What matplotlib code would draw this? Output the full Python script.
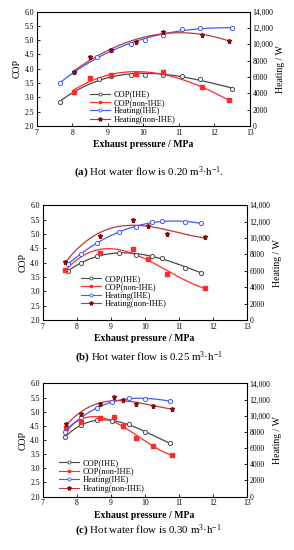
import numpy as np
import matplotlib
matplotlib.use("Agg")
import matplotlib.pyplot as plt
from matplotlib.ticker import FuncFormatter

plt.rcParams['font.family'] = ['Liberation Serif', 'DejaVu Serif']
plt.rcParams['mathtext.fontset'] = 'custom'
plt.rcParams['mathtext.rm'] = 'Liberation Serif'
plt.rcParams['mathtext.it'] = 'Liberation Serif:italic'
plt.rcParams['mathtext.bf'] = 'Liberation Serif:bold'

# ---- data ----
# panel (a): 0.20 m3/h
a_x_ihe = [7.65, 8.75, 9.1, 9.65, 10.05, 10.55, 11.1, 11.6, 12.5]
a_cop_ihe = [2.84, 3.65, 3.75, 3.78, 3.78, 3.78, 3.75, 3.65, 3.30]
a_x_heat_ihe = [7.65, 8.05, 8.7, 9.1, 9.65, 10.05, 10.55, 11.1, 11.6, 12.5]
a_heat_ihe = [5200, 6630, 8390, 9270, 10080, 10570, 11130, 11830, 11970, 11970]
a_x_non = [8.05, 8.5, 9.1, 9.8, 10.55, 11.65, 12.4]
a_cop_non = [3.20, 3.68, 3.78, 3.80, 3.88, 3.35, 2.90]
a_heat_non = [6580, 8400, 9345, 10325, 11550, 11130, 10430]

# panel (b): 0.25 m3/h
b_x_ihe = [7.75, 8.12, 8.6, 9.25, 9.76, 10.22, 10.52, 11.18, 11.66]
b_cop_ihe = [3.70, 4.00, 4.24, 4.32, 4.26, 4.24, 4.17, 3.83, 3.65]
b_heat_ihe = [6830, 8050, 9450, 10680, 11380, 11970, 12080, 11900, 11830]
b_x_non = [7.66, 8.69, 9.65, 10.09, 10.67, 11.78]
b_cop_non = [3.74, 4.35, 4.46, 4.12, 3.60, 3.12]
b_heat_non = [7100, 10220, 12180, 11480, 10540, 10080]

# panel (c): 0.30 m3/h
c_x_ihe = [7.66, 8.13, 8.6, 9.05, 9.54, 10.0, 10.75]
c_cop_ihe = [4.11, 4.53, 4.70, 4.67, 4.55, 4.30, 3.88]
c_heat_ihe = [7980, 9800, 10950, 11650, 12180, 12110, 11800]
c_x_non = [7.7, 8.13, 8.69, 9.1, 9.37, 9.76, 10.24, 10.79]
c_cop_non = [4.41, 4.64, 4.76, 4.81, 4.48, 4.06, 3.79, 3.48]
c_heat_non = [9000, 10250, 11450, 12290, 11900, 11450, 11170, 10890]

captions = ["(a)", "(b)", "(c)"]
flows = ["0.20", "0.25", "0.30"]
tails = [".", "", ""]

panels = [
    (a_x_ihe, a_cop_ihe, a_x_heat_ihe, a_heat_ihe, a_x_non, a_cop_non, a_heat_non),
    (b_x_ihe, b_cop_ihe, b_x_ihe, b_heat_ihe, b_x_non, b_cop_non, b_heat_non),
    (c_x_ihe, c_cop_ihe, c_x_ihe, c_heat_ihe, c_x_non, c_cop_non, c_heat_non),
]

# layout (figure fractions)
axes_pos = [
    [0.125, 0.771, 0.725, 0.208],
    [0.145, 0.418, 0.694, 0.209],
    [0.145, 0.097, 0.694, 0.206],
]
caption_y = [0.685, 0.349, 0.035]
legend_anchor = [(0.25, 0.31), (0.19, 0.395), (0.08, 0.33)]

c_black = '#4a4a4a'
c_red = '#ff2a2a'
c_blue = '#3c5cff'
c_dred = '#b83a3a'
c_dred_m = '#8a0a0a'


def smooth(ax, x, y, color, deg=3):
    p = np.polyfit(x, y, deg)
    xs = np.linspace(min(x), max(x), 200)
    ax.plot(xs, np.polyval(p, xs), color=color, lw=0.9, zorder=2)


fig = plt.figure(figsize=(2.94, 5.5), dpi=100)

for i, (xi, ci, xh, hi, xn, cn, hn) in enumerate(panels):
    ax = fig.add_axes(axes_pos[i])
    ax2 = ax.twinx()

    smooth(ax, xi, ci, c_black)
    smooth(ax, xn, cn, c_red)
    smooth(ax2, xh, hi, c_blue)
    smooth(ax2, xn, hn, c_dred)

    ax.plot(xi, ci, 'o', mfc='white', mec=c_black, ms=3, mew=0.7, zorder=3)
    ax.plot(xn, cn, 's', color=c_red, ms=2.6, zorder=3)
    ax2.plot(xh, hi, 'o', mfc='white', mec=c_blue, ms=3, mew=0.7, zorder=3)
    ax2.plot(xn, hn, '*', color=c_dred_m, ms=3.6, zorder=3)

    # legend proxies
    h1, = ax.plot([], [], '-o', color=c_black, mfc='white', ms=2.2, mew=0.6, lw=0.8)
    h2, = ax.plot([], [], '-s', color=c_red, ms=2.0, lw=0.8)
    h3, = ax.plot([], [], '-o', color=c_blue, mfc='white', ms=2.2, mew=0.6, lw=0.8)
    h4, = ax.plot([], [], '-*', color=c_dred, mfc=c_dred_m, mec=c_dred_m, ms=3.0, lw=0.8)
    ax.legend([h1, h2, h3, h4], ['COP(IHE)', 'COP(non-IHE)', 'Heating(IHE)', 'Heating(non-IHE)'],
              loc='upper left', bbox_to_anchor=legend_anchor[i], frameon=False,
              fontsize=6, handlelength=2.4, handletextpad=0.4, labelspacing=0.05,
              borderpad=0, borderaxespad=0)

    ax.set_xlim(7, 13)
    ax.set_ylim(2.0, 6.0)
    ax.set_xticks(range(7, 14))
    ax.set_yticks(np.arange(2.0, 6.01, 0.5))
    ax.yaxis.set_major_formatter(FuncFormatter(lambda v, p: f"{v:.1f}"))
    ax2.set_ylim(0, 14000)
    ax2.set_yticks(range(0, 14001, 2000))
    ax2.yaxis.set_major_formatter(FuncFormatter(lambda v, p: f"{int(v):,}" if v >= 10000 else f"{int(v)}"))

    ax.tick_params(direction='in', length=2.5, width=0.6, labelsize=5.5, pad=2)
    ax2.tick_params(direction='in', length=2.5, width=0.6, labelsize=5.5, pad=2)
    for s in ax.spines.values():
        s.set_linewidth(0.7)

    ax.set_xlabel('Exhaust pressure / MPa', fontsize=7, fontweight='bold', labelpad=2.5)
    ax.set_ylabel('COP', fontsize=7, labelpad=2)
    ax2.set_ylabel('Heating / W', fontsize=7, labelpad=2)

    fig.text(0.505, caption_y[i],
             r"$\mathbf{" + captions[i] + r"}$ Hot water flow is " + flows[i]
             + r" m$^{3}$·h$^{-1}$" + tails[i],
             ha='center', va='center', fontsize=7.8)

fig.savefig('out.png', dpi=100)
